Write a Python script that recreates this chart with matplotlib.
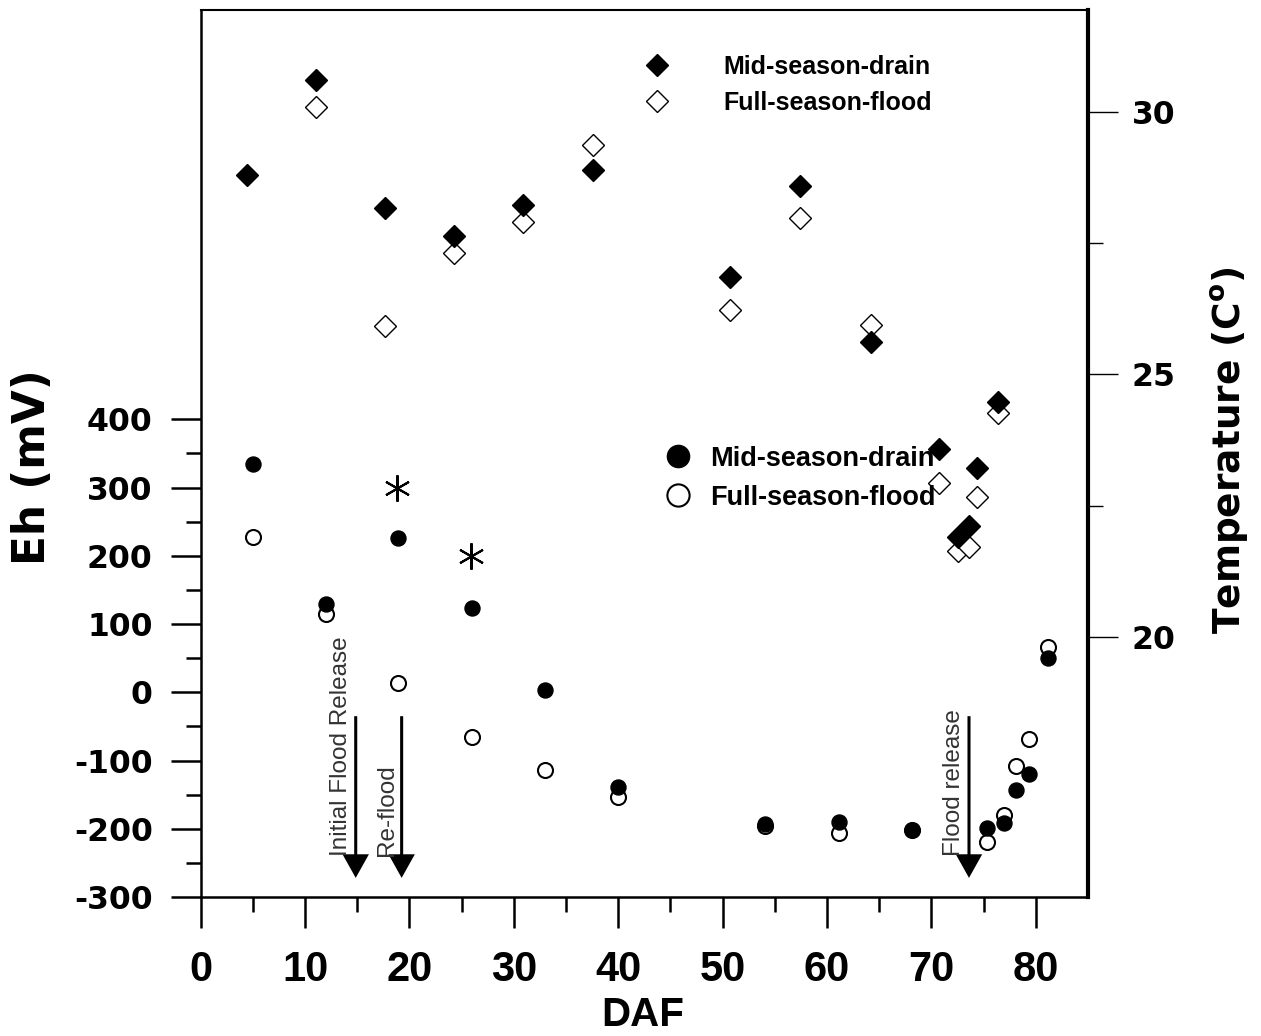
import numpy as np
import matplotlib.pyplot as plt
from matplotlib.lines import Line2D
from matplotlib.ticker import FixedLocator

# Eh (mV) by days after flooding
eh_daf = [5.0, 12.0, 18.9, 26.0, 33.0, 40.0, 54.1, 61.1, 68.1, 75.3, 77.0, 78.1, 79.3, 81.2]
eh_msd = [334, 130, 226, 123, 3, -139, -193, -190, -202, -199, -192, -143, -119, 51]
eh_fsf = [227, 115, 13, -66, -114, -153, -196, -206, -202, -219, -180, -108, -68, 66]

# spot readings shown as asterisks
star_daf = [18.8, 25.9]
star_eh = [300, 200]

# temperature (C) by days after flooding
temp_daf = [4.4, 11.05, 17.7, 24.3, 30.9, 37.6, 50.75, 57.45, 64.2, 70.7, 72.5, 73.6, 74.4, 76.4]
temp_msd = [28.80, 30.61, 28.17, 27.64, 28.22, 28.90, 26.85, 28.58, 25.62, 23.59, 21.91, 22.12, 23.21, 24.48]
temp_fsf = [np.nan, 30.10, 25.93, 27.31, 27.91, 29.37, 26.23, 27.98, 25.94, 22.93, 21.63, 21.72, 22.67, 24.26]

# water management events
event_daf = [14.85, 19.25, 73.6]
event_labels = ['Initial Flood Release', 'Re-flood', 'Flood release']

series_labels = ['Mid-season-drain', 'Full-season-flood']

BOLD_TICK = dict(fontfamily='DejaVu Sans', fontweight='bold', fontsize=22.7)

fig = plt.figure(figsize=(12.61, 10.36), dpi=100)
ax = fig.add_axes([0.15916, 0.13417, 0.70365, 0.85618])
ax2 = ax.twinx()

# temperature diamonds on the right axis
ax2.plot(temp_daf, temp_fsf, ls='none', marker='D', ms=11.7,
         mfc='white', mec='black', mew=1.0)
ax2.plot(temp_daf, temp_msd, ls='none', marker='D', ms=11.7, color='black')

# Eh circles on the left axis
ax.plot(eh_daf, eh_fsf, ls='none', marker='o', ms=10.8,
        mfc='white', mec='black', mew=1.5)
ax.plot(eh_daf, eh_msd, ls='none', marker='o', ms=10.8, color='black')
ax.plot(star_daf, star_eh, ls='none', marker=(6, 2, 0), ms=19,
        color='black', mew=1.5)

# event arrows
for d, lab in zip(event_daf, event_labels):
    ax.annotate('', xy=(d, -272), xytext=(d, -35),
                arrowprops=dict(facecolor='black', edgecolor='none',
                                width=2.2, headwidth=19, headlength=17, shrink=0))
    ax.text(d - 1.4, -240, lab, rotation=90, ha='center', va='bottom',
            fontsize=17.5, family='Liberation Sans', color='#333333')

# axes ranges and ticks
ax.set_xlim(0, 85)
ax.set_ylim(-300, 1000)
ax2.set_ylim(15.05, 31.94)

xt = np.arange(0, 81, 10)
ax.set_xticks(xt, labels=[str(v) for v in xt], fontfamily='Liberation Sans',
              fontweight='bold', fontsize=30)
ax.xaxis.set_minor_locator(FixedLocator(np.arange(5, 80, 10)))
yt = np.arange(-300, 401, 100)
ax.set_yticks(yt, labels=[str(v) for v in yt], **BOLD_TICK)
ax.yaxis.set_minor_locator(FixedLocator(np.arange(-250, 400, 100)))
ax2.set_yticks([20, 25, 30], labels=['20', '25', '30'], **BOLD_TICK)
ax2.yaxis.set_minor_locator(FixedLocator([22.5, 27.5]))

ax.tick_params(axis='x', which='major', direction='out', length=22.3, width=1.8, pad=15.8)
ax.tick_params(axis='x', which='minor', direction='out', length=11, width=1.8)
ax.tick_params(axis='y', which='major', direction='out', length=21.6, width=1.8, pad=13)
ax.tick_params(axis='y', which='minor', direction='out', length=10.8, width=1.8)
ax2.tick_params(axis='y', which='major', direction='out', length=21.6, width=1.0, pad=10)
ax2.tick_params(axis='y', which='minor', direction='out', length=10.8, width=1.0)

ax.spines['left'].set_linewidth(1.8)
ax.spines['bottom'].set_linewidth(1.8)
ax.spines['top'].set_linewidth(1.5)
ax.spines['right'].set_visible(False)
for s in ['left', 'top', 'bottom']:
    ax2.spines[s].set_visible(False)
ax2.spines['right'].set_linewidth(3.0)

# axis titles
fig.text(33 / 1261, 1 - 467 / 1036, 'Eh (mV)', rotation=90, ha='center', va='center',
         family='DejaVu Sans', weight='bold', size=31.5)
fig.text(1230 / 1261, 1 - 450 / 1036, r'Temperature (C$^{\mathbf{o}}$)', rotation=90,
         ha='center', va='center', family='DejaVu Sans', weight='bold', size=27)
fig.text(643 / 1261, 1 - 1026 / 1036, 'DAF', ha='center', va='baseline',
         family='Liberation Sans', weight='bold', size=29)

# legends
temp_handles = [Line2D([], [], ls='none', marker='D', ms=11.7, color='black'),
                Line2D([], [], ls='none', marker='D', ms=11.7, mfc='white', mec='black', mew=1.0)]
leg1 = ax2.legend(temp_handles, series_labels, loc='center left',
                  bbox_to_anchor=(631.7 / 1261, 1 - 85 / 1036), bbox_transform=fig.transFigure,
                  frameon=False, borderpad=0, borderaxespad=0, handlelength=2,
                  handletextpad=1.65, labelspacing=0.48,
                  prop=dict(family='Liberation Sans', weight='bold', size=18))
ax2.add_artist(leg1)

eh_handles = [Line2D([], [], ls='none', marker='o', ms=16, color='black'),
              Line2D([], [], ls='none', marker='o', ms=16, mfc='white', mec='black', mew=1.5)]
ax2.legend(eh_handles, series_labels, loc='center left',
           bbox_to_anchor=(662 / 1261, 1 - 478 / 1036), bbox_transform=fig.transFigure,
           frameon=False, borderpad=0, borderaxespad=0, handlelength=1.2,
           handletextpad=0.57, labelspacing=0.48,
           prop=dict(family='Liberation Sans', weight='bold', size=19.5))

fig.savefig('out.png', dpi=100)
